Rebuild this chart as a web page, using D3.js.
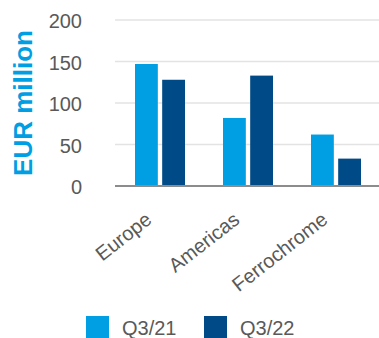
<!DOCTYPE html>
<html>
<head>
<meta charset="utf-8">
<script src="https://cdn.jsdelivr.net/npm/d3@7"></script>
<style>
  body { margin: 0; background: #fff; }
  text { font-family: "Liberation Sans", Arial, sans-serif; }
</style>
</head>
<body>
<svg class="chart"></svg>
<script>
var categories = ["Europe", "Americas", "Ferrochrome"];
var seriesNames = ["Q3/21", "Q3/22"];
var q321 = [147, 82, 62];
var q322 = [128, 133, 33];
var yTicks = [0, 50, 100, 150, 200];

var colors = {"Q3/21": "#009fe3", "Q3/22": "#004b87"};

var margin = {top: 20, right: 0, bottom: 152, left: 115},
    width = 379 - margin.left - margin.right,
    height = 338 - margin.top - margin.bottom;

var svg = d3.select(".chart")
    .attr("width", 379)
    .attr("height", 338);

var g = svg.append("g")
    .attr("transform", "translate(" + margin.left + "," + margin.top + ")");

var x0 = d3.scaleBand().domain(categories).range([0, width]).paddingInner(0).paddingOuter(0);
var x1 = d3.scaleBand().domain(seriesNames).range([20, 70]).paddingInner(0.16);
var y = d3.scaleLinear().domain([0, 200]).range([height, 0]);

var rows = categories.map(function(c, i) {
    return {cat: c, values: [{key: "Q3/21", v: q321[i]}, {key: "Q3/22", v: q322[i]}]};
});

// gridlines
g.selectAll(".grid").data(yTicks.slice(1)).enter().append("line")
    .attr("x1", 0).attr("x2", width)
    .attr("y1", function(d) { return y(d); })
    .attr("y2", function(d) { return y(d); })
    .attr("stroke", "#e3e3e3").attr("stroke-width", 1.5);

// y tick labels
g.selectAll(".ytick").data(yTicks).enter().append("text")
    .attr("x", -33)
    .attr("y", function(d) { return y(d); })
    .attr("dy", "0.42em")
    .attr("text-anchor", "end")
    .attr("fill", "#595959")
    .attr("font-size", "20px")
    .text(function(d) { return d; });

// bars
var groups = g.selectAll(".grp").data(rows).enter().append("g")
    .attr("transform", function(d) { return "translate(" + x0(d.cat) + ",0)"; });

groups.selectAll("rect").data(function(d) { return d.values; }).enter().append("rect")
    .attr("x", function(d) { return x1(d.key); })
    .attr("width", x1.bandwidth())
    .attr("y", function(d) { return y(d.v); })
    .attr("height", function(d) { return height - y(d.v); })
    .attr("fill", function(d) { return colors[d.key]; });

// baseline
g.append("line")
    .attr("x1", 0).attr("x2", width)
    .attr("y1", height).attr("y2", height)
    .attr("stroke", "#8c8c8c").attr("stroke-width", 2);

// x labels rotated
g.selectAll(".xlab").data(categories).enter().append("text")
    .attr("transform", function(d) {
        return "translate(" + (x0(d) + x0.bandwidth() / 2 - 6) + "," + (height + 36) + ") rotate(-38)";
    })
    .attr("text-anchor", "end")
    .attr("fill", "#595959")
    .attr("font-size", "20px")
    .text(function(d) { return d; });

// y title
svg.append("text")
    .attr("transform", "translate(32,103) rotate(-90)")
    .attr("text-anchor", "middle")
    .attr("fill", "#009fe3")
    .attr("font-size", "26px")
    .attr("font-weight", "bold")
    .text("EUR million");

// legend
var legend = svg.selectAll(".leg").data(seriesNames).enter().append("g")
    .attr("transform", function(d, i) { return "translate(" + (86 + i * 118) + ",316)"; });
legend.append("rect")
    .attr("width", 23).attr("height", 23)
    .attr("fill", function(d) { return colors[d]; });
legend.append("text")
    .attr("x", 36).attr("y", 19)
    .attr("fill", "#595959")
    .attr("font-size", "20px")
    .text(function(d) { return d; });
</script>
</body>
</html>
